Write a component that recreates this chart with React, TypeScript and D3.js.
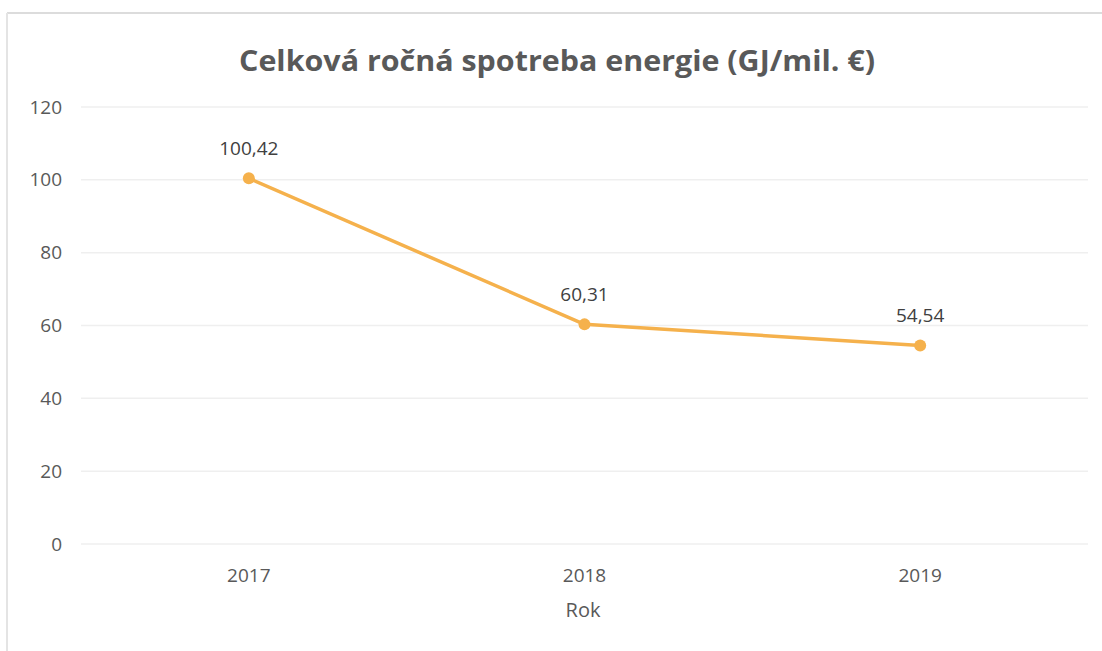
import React from "react";
import * as d3 from "d3";

const categories = ["2017", "2018", "2019"];
const values = [100.42, 60.31, 54.54];
const valueLabels = ["100,42", "60,31", "54,54"];
const yTicks = [0, 20, 40, 60, 80, 100, 120];
const title = "Celková ročná spotreba energie (GJ/mil. €)";
const xTitle = "Rok";

const W = 1102;
const H = 651;
const FONT = "'Open Sans', 'Noto Sans', sans-serif";

export default function App() {
  const x = d3.scaleBand<string>().domain(categories).range([81, 1088]);
  const y = d3.scaleLinear().domain([0, 120]).range([544, 107]);
  const line = d3
    .line<number>()
    .x((_, i) => (x(categories[i]) as number) + x.bandwidth() / 2)
    .y((d) => y(d));

  return (
    <svg
      width={W}
      height={H}
      style={{ position: "absolute", left: 0, top: 0, background: "#fff" }}
    >
      <rect x={0} y={0} width={W} height={H} fill="#fff" />
      <line x1={7} y1={13} x2={W} y2={13} stroke="#DCDCDC" strokeWidth={2} />
      <line x1={7} y1={13} x2={7} y2={H} stroke="#E4E4E4" strokeWidth={2} />
      <text
        x={557}
        y={71}
        textAnchor="middle"
        fontFamily={FONT}
        fontWeight="bold"
        fontSize={29}
        fill="#595959"
        textLength={636}
        lengthAdjust="spacingAndGlyphs"
      >
        {title}
      </text>
      {yTicks.map((t) => (
        <g key={t}>
          <line
            x1={81}
            x2={1088}
            y1={y(t)}
            y2={y(t)}
            stroke="#EFEFEF"
            strokeWidth={1.5}
          />
          <text
            x={62}
            y={y(t)}
            dy="0.35em"
            textAnchor="end"
            fontFamily={FONT}
            fontSize={19}
            fill="#595959"
          >
            {t}
          </text>
        </g>
      ))}
      {categories.map((c) => (
        <text
          key={c}
          x={(x(c) as number) + x.bandwidth() / 2}
          y={575}
          dy="0.35em"
          textAnchor="middle"
          fontFamily={FONT}
          fontSize={19}
          fill="#595959"
        >
          {c}
        </text>
      ))}
      <text
        x={583}
        y={610}
        dy="0.35em"
        textAnchor="middle"
        fontFamily={FONT}
        fontSize={20}
        fill="#595959"
      >
        {xTitle}
      </text>
      <path
        d={line(values) || ""}
        fill="none"
        stroke="#F5B14C"
        strokeWidth={3.5}
        strokeLinejoin="round"
      />
      {values.map((v, i) => {
        const cx = (x(categories[i]) as number) + x.bandwidth() / 2;
        return (
          <g key={i}>
            <circle cx={cx} cy={y(v)} r={6} fill="#F5B14C" />
            <text
              x={cx}
              y={y(v) - 30}
              dy="0.35em"
              textAnchor="middle"
              fontFamily={FONT}
              fontSize={19}
              fill="#404040"
            >
              {valueLabels[i]}
            </text>
          </g>
        );
      })}
    </svg>
  );
}
